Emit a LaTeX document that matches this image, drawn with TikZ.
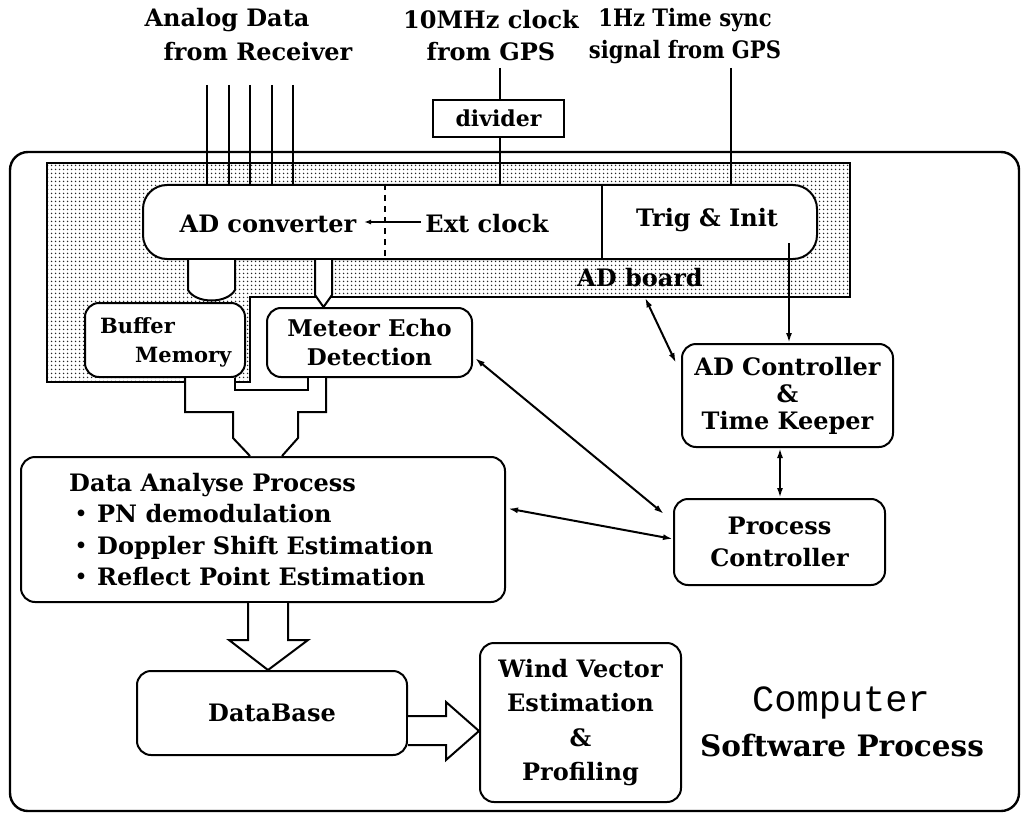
\documentclass[tikz,border=0pt]{standalone}
\usepackage{fontspec}
\setmainfont{DejaVu Serif}
\newfontfamily\monofont{Liberation Mono}
\newfontfamily\cjk{Noto Sans CJK JP}
\usetikzlibrary{arrows.meta,patterns.meta}

\tikzset{
  ln/.style={line width=2pt},
  box/.style={draw, line width=2pt, rounded corners=14pt, fill=white,
    inner sep=0pt, align=center, font=\bfseries\fontsize{24}{29}\selectfont},
  txt/.style={inner sep=0pt, font=\bfseries\fontsize{24}{32}\selectfont},
  tip/.style={-{Latex[length=10pt,width=6pt]}},
  tips/.style={{Latex[length=10pt,width=6pt]}-{Latex[length=10pt,width=6pt]}},
  fat/.style={line width=2pt, line join=miter},
}

\begin{document}
\begin{tikzpicture}[x=1pt,y=-1pt]
\useasboundingbox (0,0) rectangle (1022,813);

% computer enclosure
\draw[line width=2.4pt, rounded corners=18pt] (10,152) rectangle (1019,811);

% AD board (dotted screen)
\draw[line width=2.6pt, pattern={Dots[distance=4pt,radius=0.95pt]}, pattern color=black!85]
  (47,163) -- (850,163) -- (850,297) -- (250,297) -- (250,382) -- (47,382) -- cycle;

% input labels
\node[txt] (analog1) at (227,20) {Analog Data};
\node[txt] (analog2) at (258,52) {from Receiver};
\node[txt, align=center] (tenmhz) at (491,36) {10MHz clock\\from GPS};
\node[txt, align=center, xscale=0.88, transform shape] (onehz) at (685,36) {1Hz Time sync\\signal from GPS};

% converter row
\node[box, rounded corners=24pt, minimum width=674pt, minimum height=74pt] (adc) at (480,222) {};
\node[txt] (adtxt) at (268,224) {AD converter};
\node[txt] (exttxt) at (487,224) {Ext clock};
\node[txt] (trigtxt) at (707,220) {Trig \& Init};
\draw[ln, dash pattern=on 6pt off 5pt] (385,0 |- adc.north) -- (385,0 |- adc.south);
\draw[ln] (602,0 |- adc.north) -- (602,0 |- adc.south);
\coordinate (extsrc) at (421,222);
\coordinate (extdst) at (364,222);
\draw[ln, -{Latex[length=7pt,width=5pt]}] (extsrc) -- (extdst);

% divider
\node[draw, line width=2pt, minimum width=131pt, minimum height=37pt, inner sep=0pt,
  font=\bfseries\fontsize{22}{26}\selectfont] (div) at (498.5,118.5) {divider};

% analog inputs
\foreach \x [count=\i] in {207,229,250,272,293} {
  \coordinate (in\i) at (\x,85);
  \draw[ln] (in\i) -- (in\i |- adc.north);
}
\coordinate (clkin) at (500,68);
\draw[ln] (clkin) -- (clkin |- div.north);
\draw[ln] (clkin |- div.south) -- (clkin |- adc.north);
\coordinate (ppsin) at (731,68);
\draw[ln] (ppsin) -- (ppsin |- adc.north);

% boxes on the board
\node[box, minimum width=160pt, minimum height=74pt] (buf) at (165,340) {};
\node[txt, anchor=west, align=left, font=\bfseries\fontsize{21}{29}\selectfont] (buftxt) at (100,342)
  {Buffer\\\hspace*{35pt}Memory};
\node[box, minimum width=205pt, minimum height=69pt, font=\bfseries\fontsize{23}{29}\selectfont] (met) at (369.5,342.5)
  {Meteor Echo\\Detection};

% data paths from the converter
\draw[fat, fill=white] (188,0 |- adc.south) -- (188,290) .. controls (196,304) and (227,304) .. (235,290) -- (235,0 |- adc.south);
\draw[fat, fill=white] (315,0 |- adc.south) -- (315,295) -- (323.5,0 |- met.north) -- (332,295) -- (332,0 |- adc.south);

% board label
\node[txt] (boardlbl) at (640,278) {AD board};

% controller boxes
\node[box, minimum width=211pt, minimum height=103pt, font=\bfseries\fontsize{24}{27}\selectfont] (adctl) at (787.5,395.5)
  {AD Controller\\\&\\Time Keeper};
\node[box, minimum width=211pt, minimum height=86pt, font=\bfseries\fontsize{24}{32}\selectfont] (pctl) at (779.5,542)
  {Process\\Controller};

% analysis box
\node[box, minimum width=484pt, minimum height=145pt] (dap) at (263,529.5) {};
\node[txt, anchor=west, align=left, font=\bfseries\fontsize{24}{31.5}\selectfont] (daptxt) at (69,529.5)
  {Data Analyse Process\\
   {\cjk ・}\hspace{4pt}PN demodulation\\
   {\cjk ・}\hspace{4pt}Doppler Shift Estimation\\
   {\cjk ・}\hspace{4pt}Reflect Point Estimation};

% merged data path into analysis
\fill[white] (185,0 |- buf.south) -- (185,412) -- (233,412) -- (233,438) -- (250,0 |- dap.north)
  -- (282,0 |- dap.north) -- (298,438) -- (298,412) -- (326,412) -- (326,0 |- met.south)
  -- (308,0 |- met.south) -- (308,390) -- (235,390) -- (235,0 |- buf.south) -- cycle;
\draw[fat] (185,0 |- buf.south) -- (185,412) -- (233,412) -- (233,438) -- (250,0 |- dap.north);
\draw[fat] (282,0 |- dap.north) -- (298,438) -- (298,412) -- (326,412) -- (326,0 |- met.south);
\draw[fat] (308,0 |- met.south) -- (308,390) -- (235,390) -- (235,0 |- buf.south);

% database and wind estimation
\node[box, minimum width=270pt, minimum height=84pt] (db) at (272,713) {DataBase};
\node[box, minimum width=201pt, minimum height=159pt, font=\bfseries\fontsize{24}{34.5}\selectfont] (wind) at (580.5,722.5)
  {Wind Vector\\Estimation\\\&\\Profiling};

\draw[fat, fill=white] (248,0 |- dap.south) -- (248,640) -- (229,640) -- (268,0 |- db.north)
  -- (308,640) -- (288,640) -- (288,0 |- dap.south);
\draw[fat, fill=white] (db.east |- 0,716) -- (446,716) -- (446,702) -- (wind.west |- 0,731)
  -- (446,760) -- (446,745) -- (db.east |- 0,745);

% control connectors
\coordinate (trigsrc) at (789,243);
\draw[ln, tip] (trigsrc) -- (trigsrc |- adctl.north);
\draw[ln, tips] ([xshift=5pt,yshift=-10pt]boardlbl.south) -- ([xshift=-5pt,yshift=-20pt]adctl.north west);
\draw[ln, tips] ([xshift=-7.5pt]adctl.south) -- ([xshift=-7.5pt]adctl.south |- pctl.north);
\draw[ln, tips] ([xshift=2pt,yshift=-15.5pt]met.east) -- ([xshift=-9pt,yshift=-16pt]pctl.north west);
\draw[ln, tips] ([xshift=2pt,yshift=21pt]dap.east) -- ([yshift=3pt]pctl.west);

% caption
\node[inner sep=0pt, font=\monofont\fontsize{37}{40}\selectfont] (comp) at (841,703) {Computer};
\node[inner sep=0pt, font=\bfseries\fontsize{29.5}{34}\selectfont] (swp) at (842,745) {Software Process};
\end{tikzpicture}
\end{document}
